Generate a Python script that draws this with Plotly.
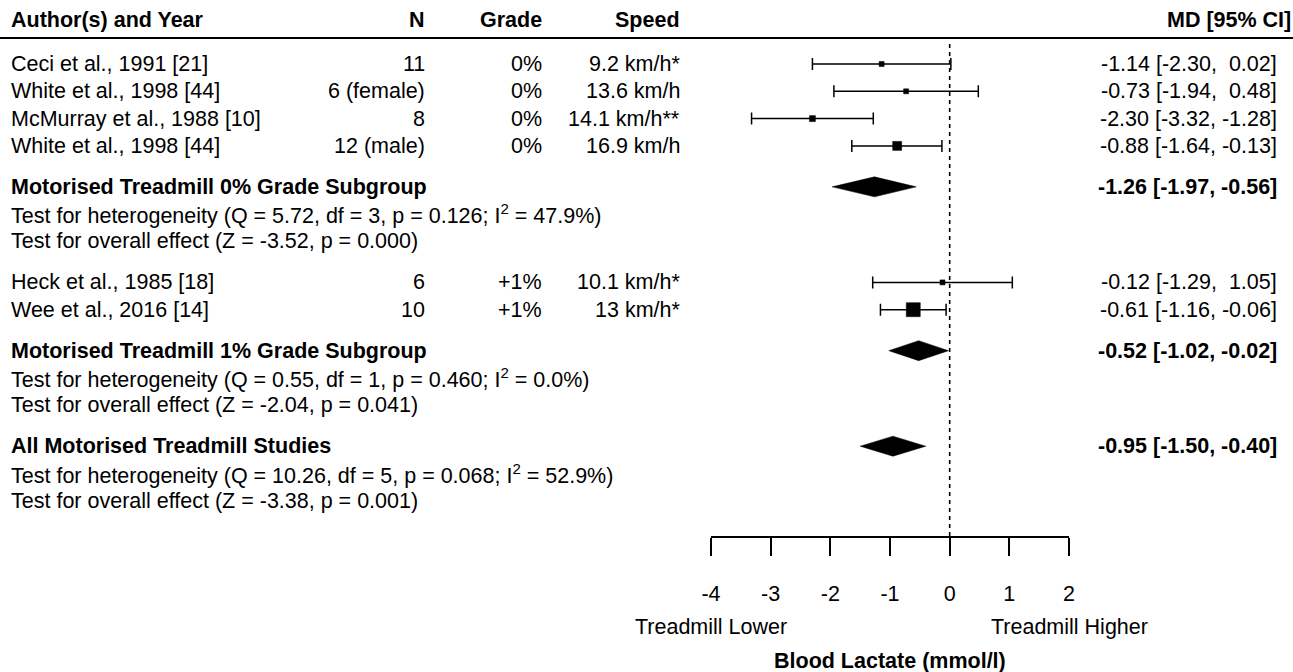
import plotly.graph_objects as go

# ---------------- data ----------------
studies = ["Ceci et al., 1991 [21]", "White et al., 1998 [44]", "McMurray et al., 1988 [10]",
           "White et al., 1998 [44]", "Heck et al., 1985 [18]", "Wee et al., 2016 [14]"]
n_labels = ["11", "6 (female)", "8", "12 (male)", "6", "10"]
grades = ["0%", "0%", "0%", "0%", "+1%", "+1%"]
speeds = ["9.2 km/h*", "13.6 km/h", "14.1 km/h**", "16.9 km/h", "10.1 km/h*", "13 km/h*"]
md = [-1.14, -0.73, -2.30, -0.88, -0.12, -0.61]
ci_lo = [-2.30, -1.94, -3.32, -1.64, -1.29, -1.16]
ci_hi = [0.02, 0.48, -1.28, -0.13, 1.05, -0.06]

summ_labels = ["Motorised Treadmill 0% Grade Subgroup", "Motorised Treadmill 1% Grade Subgroup",
               "All Motorised Treadmill Studies"]
summ_md = [-1.26, -0.52, -0.95]
summ_lo = [-1.97, -1.02, -1.50]
summ_hi = [-0.56, -0.02, -0.40]
het_text = ["Test for heterogeneity (Q = 5.72, df = 3, p = 0.126; I<sup>2</sup> = 47.9%)",
            "Test for heterogeneity (Q = 0.55, df = 1, p = 0.460; I<sup>2</sup> = 0.0%)",
            "Test for heterogeneity (Q = 10.26, df = 5, p = 0.068; I<sup>2</sup> = 52.9%)"]
overall_text = ["Test for overall effect (Z = -3.52, p = 0.000)",
                "Test for overall effect (Z = -2.04, p = 0.041)",
                "Test for overall effect (Z = -3.38, p = 0.001)"]
x_ticks = [-4, -3, -2, -1, 0, 1, 2]
headers = ["Author(s) and Year", "N", "Grade", "Speed", "MD [95% CI]"]

# ---------------- layout helpers (positions / styles) ----------------
W, H = 1293, 672
FONT = "Liberation Sans, Arial, sans-serif"
FS = 21.5
marker_px = [5, 5, 6, 9, 5, 14]


def row_y(r):
    return 64 + 27.3 * r


study_rows = [0, 1, 2, 3, 8, 9]
summ_rows = [4.5, 10.5, 14]
het_rows = [5.5, 11.5, 15]
ovr_rows = [6.5, 12.5, 16]

col_author = 10
col_n = 426
col_grade = 543
col_speed = 681
col_md = 1278
col_md_head = 1292
header_y = 20
line_y = 38
axis_y = 537


def fmt(v):
    s = f"{v:.2f}"
    return s if v < 0 else "\u00a0" + s


def ci_text(m, lo, hi):
    return f"{m:.2f} [{lo:.2f}, {fmt(hi)}]"


fig = go.Figure()

# study CIs and squares
ys = [row_y(r) for r in study_rows]
fig.add_trace(go.Scatter(
    x=md, y=ys, mode="markers", opacity=1,
    marker=dict(symbol="square", size=marker_px, color="black", opacity=1,
                line=dict(width=0.5, color="black")),
    error_x=dict(type="data", symmetric=False,
                 array=[h - m for h, m in zip(ci_hi, md)],
                 arrayminus=[m - l for m, l in zip(md, ci_lo)],
                 color="black", thickness=1.5, width=6),
    showlegend=False, hoverinfo="skip"))

# summary diamonds
dh = 10
for m, lo, hi, r in zip(summ_md, summ_lo, summ_hi, summ_rows):
    y0 = row_y(r)
    fig.add_trace(go.Scatter(
        x=[lo, m, hi, m, lo], y=[y0, y0 - dh, y0, y0 + dh, y0],
        mode="lines", fill="toself", fillcolor="black",
        line=dict(color="black", width=0.5), showlegend=False, hoverinfo="skip"))

ann = []


def txt(x, y, s, anchor="left", bold=False, xref="paper"):
    if bold:
        s = f"<b>{s}</b>"
    ann.append(dict(x=x / W if xref == "paper" else x, y=y, xref=xref, yref="y", text=s,
                    showarrow=False, xanchor=anchor, yanchor="middle", borderpad=0,
                    font=dict(family=FONT, size=FS, color="black")))


# headers
txt(col_author, header_y, headers[0], "left", True)
txt(col_n, header_y, headers[1], "right", True)
txt(col_grade, header_y, headers[2], "right", True)
txt(col_speed, header_y, headers[3], "right", True)
txt(col_md_head, header_y, headers[4], "right", True)

for i, r in enumerate(study_rows):
    y = row_y(r)
    txt(col_author, y, studies[i])
    txt(col_n, y, n_labels[i], "right")
    txt(col_grade, y, grades[i], "right")
    txt(col_speed, y, speeds[i], "right")
    txt(col_md, y, ci_text(md[i], ci_lo[i], ci_hi[i]), "right")

for i in range(3):
    txt(col_author, row_y(summ_rows[i]), summ_labels[i], "left", True)
    txt(col_md, row_y(summ_rows[i]), ci_text(summ_md[i], summ_lo[i], summ_hi[i]), "right", True)
    txt(col_author, row_y(het_rows[i]), het_text[i])
    txt(col_author, row_y(ovr_rows[i]), overall_text[i])

# axis side labels
txt(-4, 627, "Treadmill Lower", "center", xref="x")
txt(2, 627, "Treadmill Higher", "center", xref="x")
txt(-1, 661, "Blood Lactate (mmol/l)", "center", True, xref="x")

shapes = [
    dict(type="line", xref="paper", yref="y", x0=0, x1=1, y0=line_y, y1=line_y,
         line=dict(color="black", width=2)),
    dict(type="line", xref="x", yref="y", x0=0, x1=0, y0=44, y1=axis_y,
         line=dict(color="black", width=1.6, dash="4px,4px")),
]

fig.update_layout(
    width=W, height=H, margin=dict(l=0, r=0, t=0, b=0, autoexpand=False),
    paper_bgcolor="white", plot_bgcolor="white",
    font=dict(family=FONT, size=FS, color="black"),
    xaxis=dict(domain=[711 / W, 1069 / W], range=[-4, 2], anchor="free",
               position=1 - axis_y / H, showline=True, linecolor="black", linewidth=1.5,
               ticks="outside", ticklen=18, tickwidth=1.5, tickcolor="black",
               tickvals=x_ticks, ticktext=[str(t) for t in x_ticks],
               tickfont=dict(family=FONT, size=FS, color="black"),
               ticklabelstandoff=19, showgrid=False, zeroline=False, fixedrange=True,
               automargin=False),
    yaxis=dict(domain=[0, 1], range=[H, 0], visible=False, showgrid=False,
               zeroline=False, fixedrange=True, automargin=False),
    annotations=ann, shapes=shapes,
)

fig.write_html("out.html", config=dict(displayModeBar=False))
